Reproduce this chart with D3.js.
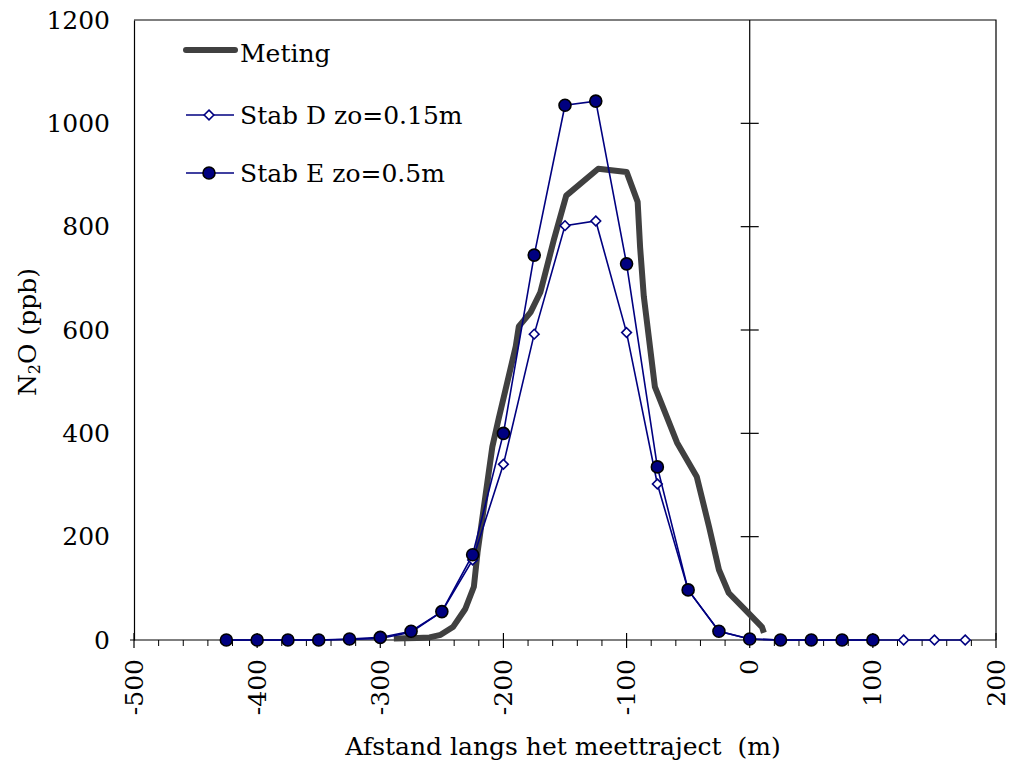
<!DOCTYPE html>
<html>
<head>
<meta charset="utf-8">
<script src="https://cdn.jsdelivr.net/npm/d3@7"></script>
<style>
  body { margin: 0; background: #fff; }
  text { font-family: "DejaVu Serif", serif; fill: #000; }
</style>
</head>
<body>
<div id="chart"></div>
<script>
// model runs, sampled every 25 m
const modelX = [-425, -400, -375, -350, -325, -300, -275, -250, -225, -200, -175, -150, -125, -100, -75, -50, -25, 0, 25, 50, 75, 100, 125, 150, 175];
const stabD = [0, 0, 0, 0, 1, 3, 15, 55, 155, 340, 592, 802, 811, 595, 302, 97, 17, 2, 0, 0, 0, 0, 0, 0, 0];
const stabE = [0, 0, 0, 0, 2, 5, 17, 55, 165, 400, 745, 1035, 1043, 728, 335, 97, 17, 2, 0, 0, 0, 0];

// measurement (Meting)
const metingX = [-289, -270, -260, -251, -241, -231, -224, -221, -209, -204, -190, -187.5, -178, -170, -159, -149, -123, -100, -91, -89, -86, -77, -59, -43, -33, -25, -17, -1, 10, 11.5];
const metingY = [3, 4, 5, 10, 25, 60, 103, 170, 374, 427, 568, 607, 634, 673, 775, 860, 912, 906, 848, 760, 665, 490, 382, 316, 219, 136, 91, 52, 25, 14];

const xTicks = [-500, -400, -300, -200, -100, 0, 100, 200];
const yTicks = [0, 200, 400, 600, 800, 1000, 1200];

const W = 1009, H = 764;
const margin = { top: 20, right: 13, bottom: 124, left: 134 };
const width = W - margin.left - margin.right;
const height = H - margin.top - margin.bottom;
const fs = "25px";

const svg = d3.select("#chart").append("svg")
  .attr("width", W).attr("height", H);
const g = svg.append("g")
  .attr("transform", "translate(" + margin.left + "," + margin.top + ")");

const x = d3.scaleLinear().domain([-500, 200]).range([0, width]);
const y = d3.scaleLinear().domain([0, 1200]).range([height, 0]);

// frame: top and right
g.append("path")
  .attr("d", "M0,0H" + width + "V" + height)
  .attr("fill", "none").attr("stroke", "#000").attr("stroke-width", 1.2);

// left axis (labels only)
const yAxis = g.append("g")
  .call(d3.axisLeft(y).tickValues(yTicks).tickFormat(d3.format("d")).tickSize(0).tickPadding(24));
yAxis.select(".domain").attr("stroke", "#000").attr("stroke-width", 1.2);
yAxis.selectAll("text").style("font-family", "DejaVu Serif").style("font-size", fs);

// vertical axis at x = 0 with crossing ticks
g.append("line")
  .attr("x1", x(0)).attr("x2", x(0)).attr("y1", 0).attr("y2", height)
  .attr("stroke", "#000").attr("stroke-width", 1.2);
g.selectAll(".ytick0").data(yTicks.filter(d => d > 0 && d < 1200)).enter()
  .append("line")
  .attr("x1", x(0) - 9).attr("x2", x(0) + 9)
  .attr("y1", d => y(d)).attr("y2", d => y(d))
  .attr("stroke", "#000").attr("stroke-width", 1.2);

// bottom axis
g.append("line")
  .attr("x1", -4).attr("x2", width).attr("y1", height).attr("y2", height)
  .attr("stroke", "#000").attr("stroke-width", 1.2);
const minor = d3.range(-500, 201, 20).filter(d => d % 100 !== 0);
g.selectAll(".minor").data(minor).enter().append("line")
  .attr("x1", d => x(d)).attr("x2", d => x(d))
  .attr("y1", height).attr("y2", height + 6)
  .attr("stroke", "#000").attr("stroke-width", 1);
g.selectAll(".major").data(xTicks).enter().append("line")
  .attr("x1", d => x(d)).attr("x2", d => x(d))
  .attr("y1", height - 7).attr("y2", height + 8)
  .attr("stroke", "#000").attr("stroke-width", 1.2);
g.selectAll(".xlab").data(xTicks).enter().append("text")
  .attr("transform", d => "translate(" + x(d) + "," + (height + 19) + ") rotate(-90)")
  .attr("text-anchor", "end")
  .attr("dominant-baseline", "central")
  .style("font-size", fs)
  .text(d => d);

// axis titles
g.append("text")
  .attr("x", 429).attr("y", height + 115)
  .attr("text-anchor", "middle")
  .style("font-size", fs)
  .style("white-space", "pre")
  .text("Afstand langs het meettraject  (m)");

const yt = svg.append("text")
  .attr("transform", "translate(36,332) rotate(-90)")
  .attr("text-anchor", "middle")
  .style("font-size", fs);
yt.append("tspan").text("N");
yt.append("tspan").attr("dy", 4).style("font-size", "16px").text("2");
yt.append("tspan").attr("dy", -4).text("O (ppb)");

// series
const line = d3.line().x(d => x(d[0])).y(d => y(d[1]));
const metingData = metingX.map((v, i) => [v, metingY[i]]);
const dData = stabD.map((v, i) => [modelX[i], v]);
const eData = stabE.map((v, i) => [modelX[i], v]);

g.append("path").datum(metingData).attr("d", line)
  .attr("fill", "none").attr("stroke", "#404040").attr("stroke-width", 6)
  .attr("stroke-linejoin", "round");

g.append("path").datum(dData).attr("d", line)
  .attr("fill", "none").attr("stroke", "#000080").attr("stroke-width", 1.6);
g.append("path").datum(eData).attr("d", line)
  .attr("fill", "none").attr("stroke", "#000080").attr("stroke-width", 1.6);

const diamond = d3.symbol().type(d3.symbolDiamond2).size(60);
g.selectAll(".dm").data(dData).enter().append("path")
  .attr("d", diamond)
  .attr("transform", d => "translate(" + x(d[0]) + "," + y(d[1]) + ")")
  .attr("fill", "#fff").attr("stroke", "#000080").attr("stroke-width", 1.6);

g.selectAll(".em").data(eData).enter().append("circle")
  .attr("cx", d => x(d[0])).attr("cy", d => y(d[1])).attr("r", 6)
  .attr("fill", "#000080").attr("stroke", "#000").attr("stroke-width", 1.6);

// legend
const leg = svg.append("g");
leg.append("line").attr("x1", 186).attr("x2", 235).attr("y1", 50).attr("y2", 50)
  .attr("stroke", "#404040").attr("stroke-width", 6).attr("stroke-linecap", "round");
leg.append("text").attr("x", 240).attr("y", 62).style("font-size", fs).text("Meting");

leg.append("line").attr("x1", 186).attr("x2", 234).attr("y1", 115).attr("y2", 115)
  .attr("stroke", "#000080").attr("stroke-width", 1.6);
leg.append("path").attr("d", diamond).attr("transform", "translate(209,115)")
  .attr("fill", "#fff").attr("stroke", "#000080").attr("stroke-width", 1.6);
leg.append("text").attr("x", 240).attr("y", 124).style("font-size", fs).text("Stab D zo=0.15m");

leg.append("line").attr("x1", 186).attr("x2", 234).attr("y1", 173).attr("y2", 173)
  .attr("stroke", "#000080").attr("stroke-width", 1.6);
leg.append("circle").attr("cx", 209).attr("cy", 173).attr("r", 6)
  .attr("fill", "#000080").attr("stroke", "#000").attr("stroke-width", 1.6);
leg.append("text").attr("x", 240).attr("y", 182).style("font-size", fs).text("Stab E zo=0.5m");
</script>
</body>
</html>
